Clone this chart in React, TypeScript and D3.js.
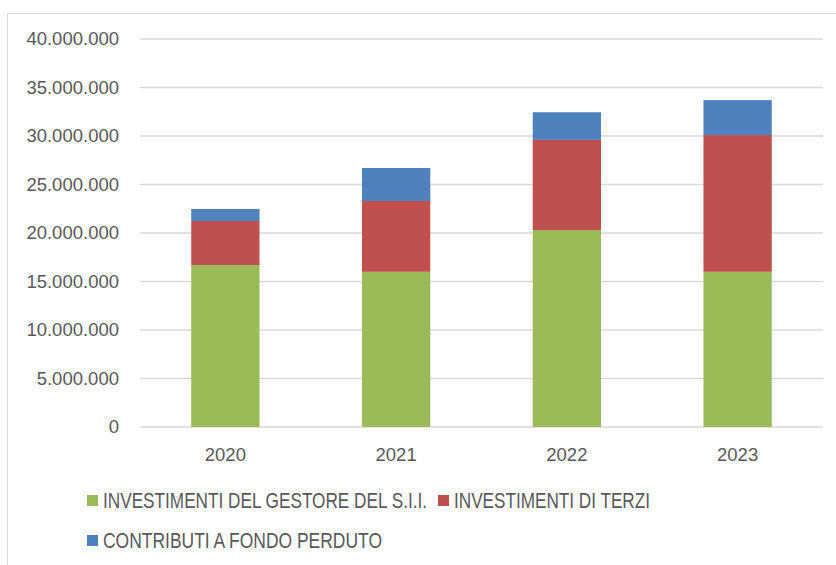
import React from "react";
import * as d3 from "d3";

const years = ["2020", "2021", "2022", "2023"];
const gestore = [16700000, 16000000, 20300000, 16000000];
const terzi = [4540000, 7300000, 9300000, 14100000];
const contributi = [1240000, 3400000, 2850000, 3600000];
const seriesNames = ["INVESTIMENTI DEL GESTORE DEL S.I.I.", "INVESTIMENTI DI TERZI", "CONTRIBUTI A FONDO PERDUTO"];
const seriesColors = ["#9BBB59", "#C0504D", "#4F81BD"];
const yTicks = [0, 5000000, 10000000, 15000000, 20000000, 25000000, 30000000, 35000000, 40000000];

const W = 836, H = 565;
const FONT = "'Liberation Sans', Arial, sans-serif";

const legendItems = [
  { sx: 87, sy: 495, tx: 103, ty: 500, w: 324 },
  { sx: 438, sy: 495, tx: 454, ty: 500, w: 196 },
  { sx: 87, sy: 535, tx: 103, ty: 540.5, w: 279 },
];

export default function App() {
  const x = d3.scaleBand<string>().domain(years).range([140, 823]).paddingInner(0.6).paddingOuter(0.3);
  const y = d3.scaleLinear().domain([0, 40000000]).range([427, 39]);
  const rows = years.map((yr, i) => ({ year: yr, g: gestore[i], t: terzi[i], c: contributi[i] }));
  const stack = d3.stack<any>().keys(["g", "t", "c"])(rows);
  const fmt = (v: number) => d3.format(",")(v).replace(/,/g, ".");

  return (
    <svg width={W} height={H} style={{ position: "absolute", left: 0, top: 0, background: "#fff" }} fontFamily={FONT}>
      <rect x={0} y={0} width={W} height={H} fill="#fff" />
      <line x1={7.5} y1={13.5} x2={W} y2={13.5} stroke="#d9d9d9" />
      <line x1={7.5} y1={13.5} x2={7.5} y2={H} stroke="#d9d9d9" />
      {yTicks.map((t) => (
        <g key={t}>
          <line x1={140} x2={823} y1={y(t)} y2={y(t)} stroke="#d9d9d9" strokeWidth={1.5} />
          <text x={119} y={y(t)} dy="0.35em" textAnchor="end" fontSize={18.5} fill="#595959">{fmt(t)}</text>
        </g>
      ))}
      {stack.map((s, si) => (
        <g key={si} fill={seriesColors[si]}>
          {s.map((d: any, i: number) => (
            <rect key={i} x={x(years[i])} width={x.bandwidth()} y={y(d[1])} height={y(d[0]) - y(d[1])} />
          ))}
        </g>
      ))}
      {years.map((yr) => (
        <text key={yr} x={(x(yr) as number) + x.bandwidth() / 2} y={455} dy="0.35em" textAnchor="middle" fontSize={18.5} fill="#595959">{yr}</text>
      ))}
      <g fontSize={17.1} fill="#595959">
        {legendItems.map((l, i) => (
          <g key={i}>
            <rect x={l.sx} y={l.sy} width={11} height={11} fill={seriesColors[i]} />
            <text transform={`translate(${l.tx},${l.ty}) scale(1,1.26)`} dy="0.35em" textLength={l.w} lengthAdjust="spacingAndGlyphs">{seriesNames[i]}</text>
          </g>
        ))}
      </g>
    </svg>
  );
}
